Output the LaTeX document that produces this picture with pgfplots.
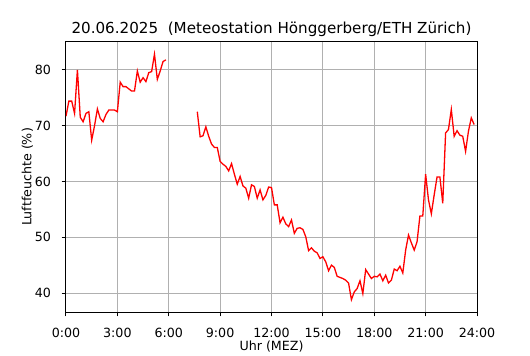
\documentclass[border=0pt]{standalone}
\usepackage{pgfplots}
\pgfplotsset{compat=1.18}
\usepackage{pgfplotstable}
\usepackage{fontspec}
\setmainfont{DejaVu Sans}
\definecolor{gridgray}{HTML}{B0B0B0}

\pgfplotstableread{
t h
0 71.7
10 74.4
20 74.4
30 72.2
40 80.0
50 71.5
60 70.7
70 72.2
80 72.5
90 67.4
100 70.0
110 73.0
120 71.3
130 70.7
140 72.0
150 72.8
160 72.8
170 72.8
180 72.5
190 77.8
200 77.0
210 77.0
220 76.6
230 76.2
240 76.2
250 79.8
260 77.8
270 78.6
280 77.9
290 79.5
300 79.7
310 82.8
320 78.3
330 79.8
340 81.5
350 81.8
}\morning

\pgfplotstableread{
t h
460 72.5
470 68.0
480 68.2
490 69.8
500 68.1
510 66.7
520 66.1
530 66.1
540 63.6
550 63.1
560 62.7
570 61.9
580 63.2
590 61.3
600 59.5
610 60.9
620 59.2
630 58.8
640 57.0
650 59.4
660 59.1
670 57.0
680 58.5
690 56.7
700 57.5
710 59.0
720 58.9
730 55.8
740 55.8
750 52.6
760 53.6
770 52.4
780 51.9
790 53.1
800 50.7
810 51.6
820 51.7
830 51.4
840 50.1
850 47.6
860 48.1
870 47.5
880 47.2
890 46.2
900 46.5
910 45.6
920 44.0
930 45.0
940 44.6
950 43.0
960 42.8
970 42.6
980 42.3
990 41.8
1000 38.8
1010 40.2
1020 40.8
1030 42.2
1040 39.9
1050 44.2
1060 43.4
1070 42.6
1080 43.0
1090 42.9
1100 43.4
1110 42.2
1120 43.2
1130 41.8
1140 42.3
1150 44.3
1160 44.0
1170 44.8
1180 43.6
1190 47.7
1200 50.4
1210 49.0
1220 47.7
1230 49.2
1240 53.8
1250 53.8
1260 61.3
1270 56.7
1280 54.2
1290 57.6
1300 60.8
1310 60.8
1320 56.1
1330 68.7
1340 69.3
1350 72.9
1360 68.1
1370 69.1
1380 68.3
1390 68.1
1400 65.4
1410 69.0
1420 71.4
1430 70.2
}\rest

\begin{document}
\begin{tikzpicture}
\begin{axis}[
  scale only axis,
  width=411bp, height=270bp,
  xmin=0, xmax=1440,
  ymin=36.6, ymax=85.0,
  xtick={0,180,360,540,720,900,1080,1260,1440},
  xticklabels={0:00,3:00,6:00,9:00,12:00,15:00,18:00,21:00,24:00},
  ytick={40,50,60,70,80},
  /pgf/number format/assume math mode=true,
  grid=major,
  major grid style={gridgray, line width=1.0bp},
  axis line style={black, line width=1.0bp},
  tick style={black, line width=1.0bp},
  tick align=outside,
  major tick length=4.4bp,
  xtick pos=left, ytick pos=left,
  tick label style={font=\fontsize{12.7}{15}\selectfont},
  xticklabel style={inner sep=0pt, anchor=north, yshift=-11.5bp},
  yticklabel style={inner sep=0pt, anchor=east, xshift=-10.5bp},
  xlabel={Uhr (MEZ)},
  ylabel={Luftfeuchte (\%)},
  every axis x label/.style={at={(axis description cs:0.5,0)}, anchor=center, yshift=-34.5bp, font=\fontsize{12.7}{15}\selectfont},
  every axis y label/.style={at={(axis description cs:0,0.5)}, xshift=-38.5bp, rotate=90, anchor=center, font=\fontsize{12.7}{15}\selectfont},
  title={20.06.2025\ \ (Meteostation Hönggerberg/ETH Zürich)},
  every axis title/.style={at={(axis description cs:0.5,1)}, anchor=base, yshift=8.3bp, font=\fontsize{15.2}{18}\selectfont, inner sep=0pt},
]
\addplot[red, line width=1.3bp, mark=none] table[x=t, y=h] {\morning};
\addplot[red, line width=1.3bp, mark=none] table[x=t, y=h] {\rest};
\end{axis}
\path (current axis.south west) ++(-66bp,-38bp) rectangle ++(530bp,350bp);
\end{tikzpicture}
\end{document}
